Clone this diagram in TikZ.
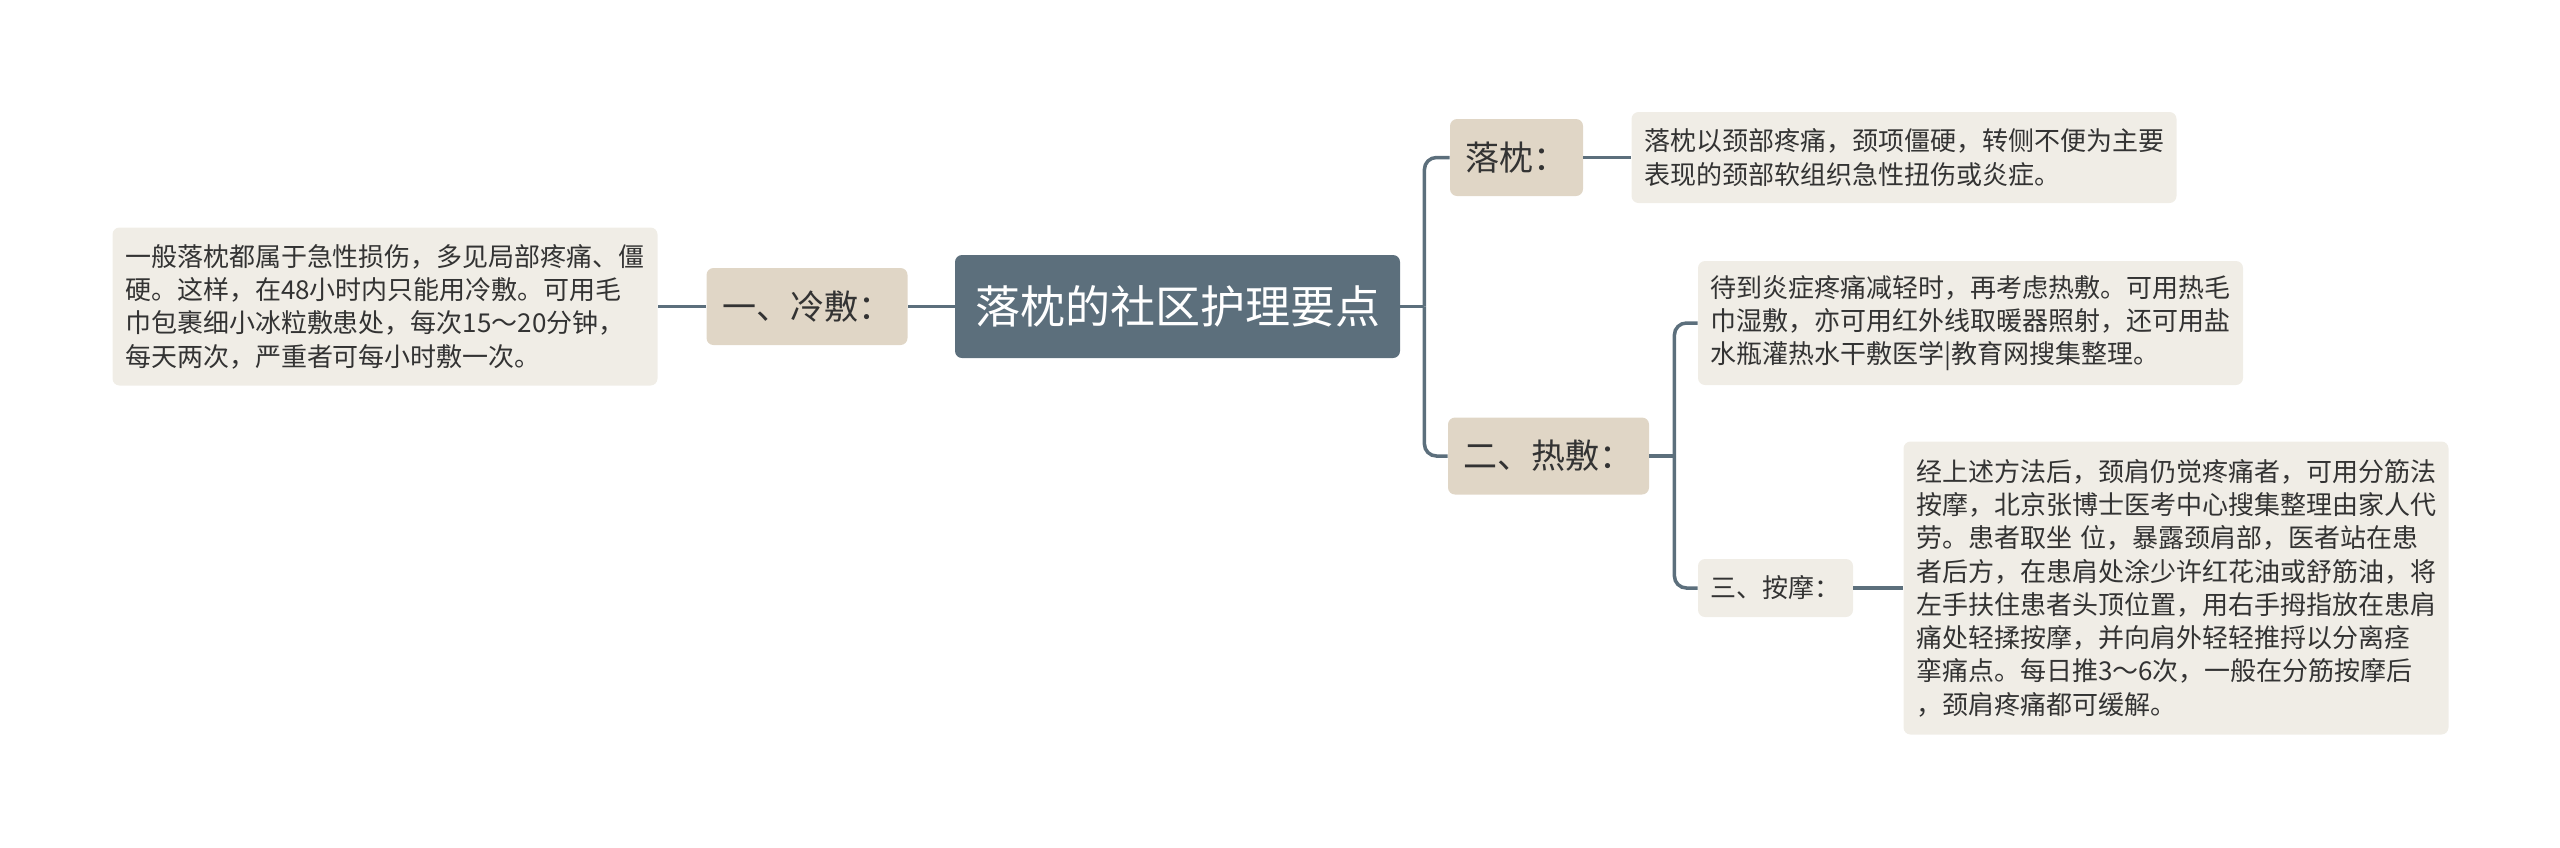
\documentclass[tikz,border=0pt]{standalone}
\usepackage{fontspec}
\setmainfont{Noto Sans CJK SC}
\definecolor{rootblue}{HTML}{5C6F7C}
\definecolor{branchtan}{HTML}{E0D6C6}
\definecolor{leafgray}{HTML}{F0EDE6}
\definecolor{inkgray}{HTML}{333333}
\begin{document}
\begin{tikzpicture}[
      x=0.5pt, y=-0.5pt,
      every node/.style={rounded corners=3.5pt, align=left, text=inkgray},
      root/.style={fill=rootblue, text=white, minimum width=222.5pt, minimum height=51.5pt,
        inner sep=0pt, align=center, font=\fontsize{22.5}{27}\selectfont},
      branch/.style={fill=branchtan, minimum height=38.5pt, inner xsep=7.75pt, inner ysep=0pt,
        font=\fontsize{17}{20}\selectfont},
      leaf/.style={fill=leafgray, text width=260pt, inner xsep=6.25pt, inner ysep=0pt,
        font=\fontsize{13}{16.65}\selectfont},
      tag/.style={fill=leafgray, minimum height=29pt, inner xsep=6.25pt, inner ysep=0pt,
        font=\fontsize{13}{16.65}\selectfont},
      link/.style={draw=rootblue, line width=1.75pt},
      fork/.style={link, rounded corners=6pt}
    ]
      \useasboundingbox (0,0) rectangle (2560,847);
      \node[root] (root) at (1177.5,306.5) {落枕的社区护理要点};
      \node[branch] (cold) at (807,306.5) {一、冷敷：};
      \node[leaf, minimum height=79pt] (coldtxt) at (385,306.5)
        {一般落枕都属于急性损伤，多见局部疼痛、僵\\
         硬。这样，在48小时内只能用冷敷。可用毛\\
         巾包裹细小冰粒敷患处，每次15～20分钟，\\
         每天两次，严重者可每小时敷一次。};
      \node[branch] (pillow) at (1516.5,157.5) {落枕：};
      \node[leaf, minimum height=45.5pt] (pillowtxt) at (1904,157.5)
        {落枕以颈部疼痛，颈项僵硬，转侧不便为主要\\
         表现的颈部软组织急性扭伤或炎症。};
      \node[branch] (hot) at (1548.5,456) {二、热敷：};
      \node[leaf, minimum height=62pt] (hottxt) at (1970.5,323)
        {待到炎症疼痛减轻时，再考虑热敷。可用热毛\\
         巾湿敷，亦可用红外线取暖器照射，还可用盐\\
         水瓶灌热水干敷医学|教育网搜集整理。};
      \node[tag] (massage) at (1775.5,588) {三、按摩：};
      \node[leaf, minimum height=146.5pt] (massagetxt) at (2176,588)
        {经上述方法后，颈肩仍觉疼痛者，可用分筋法\\
         按摩，北京张博士医考中心搜集整理由家人代\\
         劳。患者取坐 位，暴露颈肩部，医者站在患\\
         者后方，在患肩处涂少许红花油或舒筋油，将\\
         左手扶住患者头顶位置，用右手拇指放在患肩\\
         痛处轻揉按摩，并向肩外轻轻推捋以分离痉\\
         挛痛点。每日推3～6次，一般在分筋按摩后\\
         ，颈肩疼痛都可缓解。};
      \coordinate (rootfork) at ([xshift=12pt]root.east);
      \coordinate (hotfork) at ([xshift=12.5pt]hot.east);
      \draw[link] (root.west) -- (cold.east);
      \draw[link] (cold.west) -- (coldtxt.east);
      \draw[link] (root.east) -- (rootfork);
      \draw[fork] (rootfork) |- (pillow.west);
      \draw[fork] (rootfork) |- (hot.west);
      \draw[link] (pillow.east) -- (pillowtxt.west);
      \draw[link] (hot.east) -- (hotfork);
      \draw[fork] (hotfork) |- (hottxt.west);
      \draw[fork] (hotfork) |- (massage.west);
      \draw[link] (massage.east) -- (massagetxt.west);
    \end{tikzpicture}
\end{document}
